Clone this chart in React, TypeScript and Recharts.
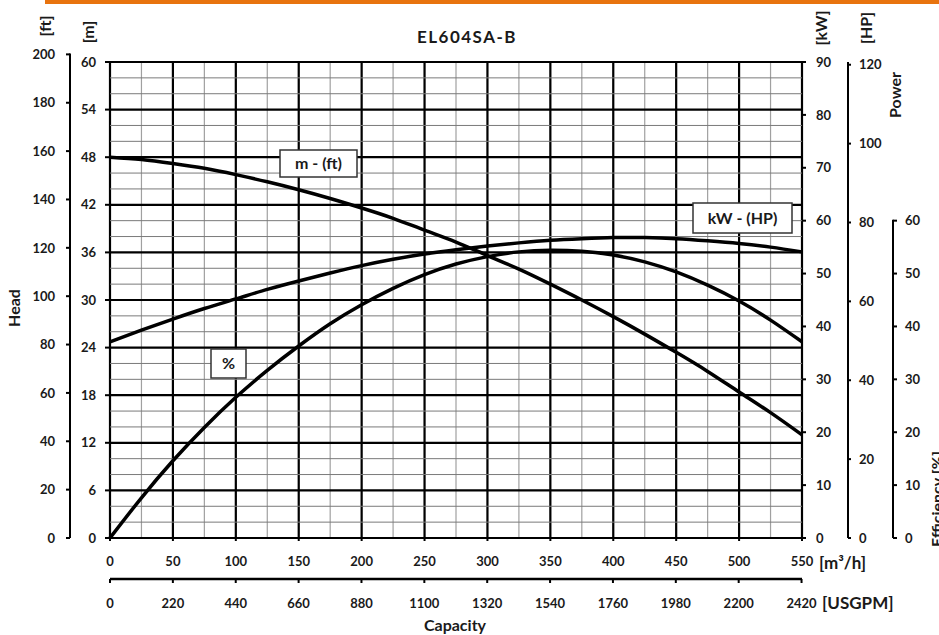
import React from 'react';
import { ComposedChart, Line, XAxis, YAxis, CartesianGrid, ReferenceLine } from 'recharts';

// ---------- data ----------
const capacity = [0, 25, 50, 75, 100, 125, 150, 175, 200, 225, 250, 275, 300, 325, 350, 375, 400, 425, 450, 475, 500, 525, 550];
const headM = [48.0, 47.7, 47.2, 46.6, 45.8, 44.9, 43.9, 42.8, 41.6, 40.3, 38.8, 37.3, 35.6, 33.9, 32.0, 30.0, 27.9, 25.7, 23.4, 21.0, 18.4, 15.8, 13.0];
const powerKW = [37.1, 39.3, 41.4, 43.4, 45.2, 47.0, 48.6, 50.1, 51.5, 52.7, 53.7, 54.5, 55.2, 55.8, 56.3, 56.6, 56.8, 56.8, 56.6, 56.2, 55.7, 55.0, 54.1];
const efficiency = [0, 7.6, 14.6, 20.9, 26.6, 31.7, 36.3, 40.5, 44.1, 47.2, 49.8, 51.8, 53.2, 54.1, 54.4, 54.2, 53.5, 52.2, 50.3, 47.8, 44.8, 41.2, 37.1];

const qTicks = [0, 50, 100, 150, 200, 250, 300, 350, 400, 450, 500, 550];
const qMinorTicks = [0, 25, 50, 75, 100, 125, 150, 175, 200, 225, 250, 275, 300, 325, 350, 375, 400, 425, 450, 475, 500, 525, 550];
const gpmTicks = [0, 220, 440, 660, 880, 1100, 1320, 1540, 1760, 1980, 2200, 2420];
const mTicks = [0, 6, 12, 18, 24, 30, 36, 42, 48, 54, 60];
const mMinorLines = [2, 4, 8, 10, 14, 16, 20, 22, 26, 28, 32, 34, 38, 40, 44, 46, 50, 52, 56, 58];
const ftTicks = [0, 20, 40, 60, 80, 100, 120, 140, 160, 180, 200];
const kwTicks = [0, 10, 20, 30, 40, 50, 60, 70, 80, 90];
const hpTicks = [0, 20, 40, 60, 80, 100, 120];
const effTicks = [0, 10, 20, 30, 40, 50, 60];

const Q_MAX = 550;
const M_MAX = 60;
const KW_MAX = 90;
const FT_PER_M = 1 / 0.3048;
const HP_PER_KW = 1 / 0.7457;
const GPM_PER_M3H = 4.40287;

const data = capacity.map((q, i) => ({ q, gpm: q * GPM_PER_M3H, head: headM[i], kw: powerKW[i], eff: efficiency[i] }));

// ---------- layout ----------
const W = 939;
const H = 635;
const MARGIN = { top: 62, right: 0, bottom: 11, left: 20 };
const M_W = 40, FT_W = 50, KW_W = 46, HP_W = 45, EFF_W = 46;
const XQ_H = 41, XG_H = 45;
const PLOT_H = H - MARGIN.top - MARGIN.bottom - XQ_H - XG_H;

const FONT = 'Lato, "Open Sans", sans-serif';
const tickStyle = { fontFamily: FONT, fontWeight: 700, fontSize: 13, fill: '#1a1a1a' };
const tickLineStyle = { stroke: '#000', strokeWidth: 2 };

const FT_MAX = M_MAX * FT_PER_M;
const FT_TICK_SIZE = 4, FT_TICK_MARGIN = 11;
const EFF_TICK_SIZE = 4, EFF_TICK_MARGIN = 8;

const FtTick = (props: any) => {
  const { x, y, payload } = props;
  const axisX = x + FT_TICK_SIZE + FT_TICK_MARGIN;
  const seg = payload.value > 0 ? (PLOT_H * 20) / FT_MAX : 0;
  return (
    <g>
      {seg > 0 && <line x1={axisX} x2={axisX} y1={y - 1} y2={y + seg} stroke="#000" strokeWidth={2} />}
      <text x={x} y={y} dy="0.36em" textAnchor="end" style={tickStyle}>{payload.value}</text>
    </g>
  );
};

const EffTick = (props: any) => {
  const { x, y, payload } = props;
  const axisX = x - EFF_TICK_SIZE - EFF_TICK_MARGIN;
  const seg = payload.value > 0 ? (PLOT_H * 10) / KW_MAX : 0;
  return (
    <g>
      {seg > 0 && <line x1={axisX} x2={axisX} y1={y - 1} y2={y + seg} stroke="#000" strokeWidth={2} />}
      <text x={x} y={y} dy="0.36em" textAnchor="start" style={tickStyle}>{payload.value}</text>
    </g>
  );
};

const titleStyle = { fontFamily: FONT, fontWeight: 700, fontSize: 16, fill: '#1a1a1a' } as const;

const Box = ({ x, y, w, h, label }: { x: number; y: number; w: number; h: number; label: string }) => (
  <g>
    <rect x={x} y={y} width={w} height={h} fill="#fff" stroke="#333" strokeWidth={1.5} />
    <text x={x + w / 2} y={y + h / 2} dy="0.36em" textAnchor="middle" style={titleStyle}>{label}</text>
  </g>
);

const RotText = ({ cx, cy, children }: { cx: number; cy: number; children: React.ReactNode }) => (
  <text x={cx} y={cy} dy="0.36em" textAnchor="middle" transform={`rotate(-90 ${cx} ${cy})`} style={titleStyle}>{children}</text>
);

export default function App() {
  return (
    <div style={{ position: 'absolute', left: 0, top: 0, width: W, height: H, background: '#fff', overflow: 'hidden' }}>
      <ComposedChart width={W} height={H} data={data} margin={MARGIN}>
        {/* outer axes declared first, inner axes last */}
        <XAxis xAxisId="b_gpm" type="number" dataKey="gpm" domain={[0, Q_MAX * GPM_PER_M3H]} allowDataOverflow ticks={gpmTicks} interval={0}
          height={XG_H} axisLine={{ stroke: '#000', strokeWidth: 2.5 }} tickSize={4} tickMargin={16} tickLine={tickLineStyle} tick={tickStyle}
          label={{ value: '[USGPM]', position: 'right', offset: 20, dy: 1.5, style: { ...titleStyle, fontSize: 17 } }} />
        <XAxis xAxisId="a_q" type="number" dataKey="q" domain={[0, Q_MAX]} ticks={qTicks} interval={0}
          height={XQ_H} axisLine={false} tickSize={3} tickMargin={16} tickLine={tickLineStyle} tick={tickStyle}
          label={{ value: '[m³/h]', position: 'right', offset: 17, dy: 4.5, style: { ...titleStyle, fontSize: 17 } }} />
        <XAxis xAxisId="c_qMinor" type="number" dataKey="q" domain={[0, Q_MAX]} ticks={qMinorTicks} interval={0} hide />

        <YAxis yAxisId="b_ft" orientation="left" type="number" domain={[0, FT_MAX]} allowDataOverflow ticks={ftTicks} interval={0}
          width={FT_W} axisLine={false} tickSize={FT_TICK_SIZE} tickMargin={FT_TICK_MARGIN} tickLine={tickLineStyle} tick={<FtTick />} />
        <YAxis yAxisId="a_m" orientation="left" type="number" domain={[0, M_MAX]} ticks={mTicks} interval={0}
          width={M_W} axisLine={false} tickSize={5} tickMargin={9} tickLine={tickLineStyle} tick={tickStyle} />

        <YAxis yAxisId="c_eff" orientation="right" type="number" domain={[0, KW_MAX]} allowDataOverflow ticks={effTicks} interval={0}
          width={EFF_W} axisLine={false} tickSize={EFF_TICK_SIZE} tickMargin={EFF_TICK_MARGIN} tickLine={tickLineStyle} tick={<EffTick />} />
        <YAxis yAxisId="b_hp" orientation="right" type="number" domain={[0, KW_MAX * HP_PER_KW]} allowDataOverflow ticks={hpTicks} interval={0}
          width={HP_W} axisLine={{ stroke: '#000', strokeWidth: 2 }} tickSize={3} tickMargin={8} tickLine={tickLineStyle} tick={tickStyle} />
        <YAxis yAxisId="a_kw" orientation="right" type="number" domain={[0, KW_MAX]} ticks={kwTicks} interval={0}
          width={KW_W} axisLine={false} tickSize={4} tickMargin={10} tickLine={tickLineStyle} tick={tickStyle} />

        {/* minor grid */}
        <CartesianGrid xAxisId="c_qMinor" yAxisId="a_m" horizontal={false} stroke="#a0a0a0" strokeWidth={1.2} />
        {mMinorLines.map((v) => (
          <ReferenceLine key={v} xAxisId="a_q" yAxisId="a_m" y={v} stroke="#7a7a7a" strokeWidth={1} />
        ))}
        {/* major grid */}
        <CartesianGrid xAxisId="a_q" yAxisId="a_m" stroke="#000" strokeWidth={2.2} />

        <Line xAxisId="a_q" yAxisId="a_m" dataKey="head" type="natural" stroke="#000" strokeWidth={3.5} dot={false} isAnimationActive={false} />
        <Line xAxisId="a_q" yAxisId="a_kw" dataKey="kw" type="natural" stroke="#000" strokeWidth={3.5} dot={false} isAnimationActive={false} />
        <Line xAxisId="a_q" yAxisId="c_eff" dataKey="eff" type="natural" stroke="#000" strokeWidth={3.5} dot={false} isAnimationActive={false} />
      </ComposedChart>

      <svg width={W} height={H} style={{ position: 'absolute', left: 0, top: 0, pointerEvents: 'none' }}>
        <rect x={45} y={0} width={W - 45} height={4} fill="#E8730E" />
        <text x={467} y={43} textAnchor="middle" style={{ ...titleStyle, fontSize: 17, letterSpacing: 1.5 }}>EL604SA-B</text>
        <RotText cx={45} cy={26}>[ft]</RotText>
        <RotText cx={88} cy={32}>[m]</RotText>
        <RotText cx={14} cy={308}>Head</RotText>
        <RotText cx={821} cy={28}>[kW]</RotText>
        <RotText cx={866} cy={28}>[HP]</RotText>
        <RotText cx={895} cy={95}>Power</RotText>
        <RotText cx={937} cy={499}>Efficiency [%]</RotText>
        <text x={455} y={625} dy="0.36em" textAnchor="middle" style={titleStyle}>Capacity</text>
        <Box x={280} y={150} w={77} h={27} label="m - (ft)" />
        <Box x={693} y={203} w={99} h={30} label="kW - (HP)" />
        <Box x={211} y={349} w={35} h={29} label="%" />
      </svg>
    </div>
  );
}
